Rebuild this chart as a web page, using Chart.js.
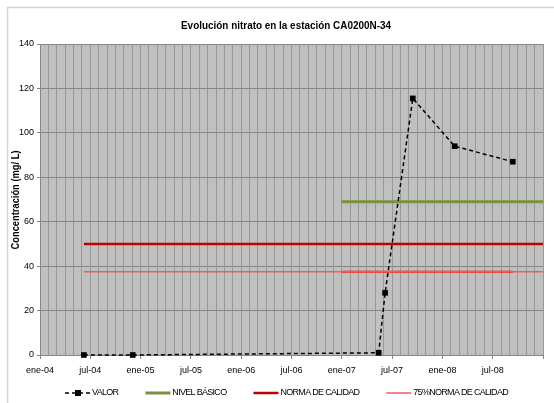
<!DOCTYPE html>
<html>
<head>
<meta charset="utf-8">
<script src="https://cdn.jsdelivr.net/npm/chart.js@4.4.1/dist/chart.umd.min.js"></script>
<style>
  html, body { margin: 0; padding: 0; background: #fff; }
</style>
</head>
<body>
<canvas id="grafico" width="554" height="403"></canvas>
<script>
// datos
var fechasValor = ['2004-06-08', '2004-12-03', '2007-05-13', '2007-06-06', '2007-09-15', '2008-02-15', '2008-09-13'];
var valor = [0, 0, 1, 28, 115.5, 94, 87];

var fechasNivel = ['2007-01-01', '2009-01-01'];
var nivelBasico = [69, 69];

var fechasNorma = ['2004-06-08', '2009-01-01'];
var normaCalidad = [50, 50];
var norma75 = [37.5, 37.5];

// segundo tramo de las normas (2007 - 2008)
var fechasNorma2 = ['2007-01-01', '2008-09-13'];

var etiquetasX = ['ene-04', 'jul-04', 'ene-05', 'jul-05', 'ene-06', 'jul-06', 'ene-07', 'jul-07', 'ene-08', 'jul-08'];
var ticksY = [0, 20, 40, 60, 80, 100, 120, 140];

// meses desde ene-04
function mesDesde2004(f) {
	var p = f.split('-').map(Number);
	return (p[0] - 2004) * 12 + (p[1] - 1) + (p[2] - 1) / 30;
}

function puntos(fechas, valores) {
	return fechas.map(function (f, i) {
		return { x: mesDesde2004(f), y: valores[i] };
	});
}

var fuente = "'Liberation Sans', Arial, sans-serif";

var fondo = {
	id: 'fondo',
	beforeDraw: function (chart) {
		var ctx = chart.ctx, a = chart.chartArea;
		ctx.save();
		ctx.fillStyle = '#fff';
		ctx.fillRect(0, 0, chart.width, chart.height);
		ctx.strokeStyle = '#d4d4d4';
		ctx.lineWidth = 1.5;
		ctx.strokeRect(7.5, 7.5, 700, 700);
		ctx.fillStyle = '#c0c0c0';
		ctx.fillRect(a.left, a.top, a.right - a.left, a.bottom - a.top);
		ctx.restore();
	}
};

function textoAjustado(ctx, texto, x, y, ancho, rot) {
	ctx.save();
	ctx.translate(x, y);
	if (rot) ctx.rotate(rot);
	var w = ctx.measureText(texto).width;
	ctx.scale(ancho / w, 1);
	ctx.textAlign = 'center';
	ctx.textBaseline = 'middle';
	ctx.fillText(texto, 0, 0);
	ctx.restore();
}

var titulos = {
	id: 'titulos',
	afterDraw: function (chart) {
		var ctx = chart.ctx;
		ctx.save();
		ctx.fillStyle = '#000';
		ctx.font = 'bold 11px ' + fuente;
		textoAjustado(ctx, 'Evolución nitrato en la estación CA0200N-34', 286, 26, 210, 0);
		ctx.font = 'bold 10.5px ' + fuente;
		textoAjustado(ctx, 'Concentración (mg/ L)', 16.5, 200, 99, -Math.PI / 2);
		ctx.restore();
	}
};

var leyenda = {
	id: 'leyenda',
	afterDraw: function (chart) {
		var ctx = chart.ctx;
		var x = 65, y = 393;
		ctx.save();
		ctx.font = '9px ' + fuente;
		ctx.letterSpacing = '-0.7px';
		ctx.textBaseline = 'middle';
		chart.data.datasets.forEach(function (ds) {
			if (ds.enLeyenda === false) return;
			ctx.save();
			ctx.strokeStyle = ds.borderColor;
			ctx.lineWidth = ds.borderWidth;
			ctx.setLineDash(ds.borderDash || []);
			ctx.beginPath();
			ctx.moveTo(x, y);
			ctx.lineTo(x + 25, y);
			ctx.stroke();
			if (ds.pointRadius > 0) {
				ctx.fillStyle = ds.pointBackgroundColor;
				ctx.fillRect(x + 10, y - 3, 6, 6);
			}
			ctx.restore();
			ctx.fillStyle = '#000';
			ctx.fillText(ds.label, x + 27, y);
			x += 27 + ctx.measureText(ds.label).width + 27;
		});
		ctx.restore();
	}
};

var config = {
	type: 'line',
	data: {
		datasets: [{
			label: 'VALOR',
			data: puntos(fechasValor, valor),
			borderColor: '#000',
			borderWidth: 1.5,
			borderDash: [4, 3],
			pointStyle: 'rect',
			pointRadius: 4,
			pointBackgroundColor: '#000',
			pointBorderWidth: 0,
			clip: 6
		}, {
			label: 'NIVEL BÁSICO',
			data: puntos(fechasNivel, nivelBasico),
			borderColor: '#77933c',
			borderWidth: 3,
			pointRadius: 0
		}, {
			label: 'NORMA DE CALIDAD',
			data: puntos(fechasNorma, normaCalidad),
			borderColor: '#c00000',
			borderWidth: 2.5,
			pointRadius: 0
		}, {
			label: '75%NORMA DE CALIDAD',
			data: puntos(fechasNorma, norma75),
			borderColor: '#f05c5c',
			borderWidth: 1.5,
			pointRadius: 0
		}, {
			label: 'NORMA DE CALIDAD',
			enLeyenda: false,
			data: puntos(fechasNorma2, normaCalidad),
			borderColor: '#d01818',
			borderWidth: 1.5,
			pointRadius: 0
		}, {
			label: '75%NORMA DE CALIDAD',
			enLeyenda: false,
			data: puntos(fechasNorma2, norma75),
			borderColor: '#ff0000',
			borderWidth: 2,
			pointRadius: 0
		}]
	},
	options: {
		responsive: false,
		animation: false,
		layout: { padding: { left: 0, right: 11, top: 44, bottom: 26 } },
		plugins: {
			legend: { display: false },
			title: { display: false },
			tooltip: { enabled: false }
		},
		scales: {
			x: {
				type: 'linear',
				min: 0,
				max: 60,
				afterFit: function (s) { s.height = 22; },
				border: { color: '#868686', width: 1 },
				grid: {
					color: '#999999',
					lineWidth: 1,
					tickLength: 4,
					tickColor: function (c) {
						return c.tick && Math.round(c.tick.value) % 6 === 0 ? '#868686' : 'rgba(0,0,0,0)';
					}
				},
				ticks: {
					stepSize: 1,
					autoSkip: false,
					maxRotation: 0,
					padding: 6,
					color: '#000',
					font: { family: fuente, size: 9 },
					callback: function (v) {
						v = Math.round(v);
						if (v % 6 !== 0) return '';
						return etiquetasX[v / 6] || '';
					}
				}
			},
			y: {
				min: 0,
				max: 140,
				afterFit: function (s) { s.width = 40; },
				afterBuildTicks: function (s) {
					s.ticks = ticksY.map(function (v) { return { value: v }; });
				},
				border: { color: '#868686', width: 1 },
				grid: { color: '#868686', lineWidth: 1, tickLength: 3, tickColor: '#868686' },
				ticks: {
					padding: 3,
					color: '#000',
					font: { family: fuente, size: 9 }
				}
			}
		}
	},
	plugins: [fondo, titulos, leyenda]
};

window.grafico = new Chart(document.getElementById('grafico'), config);
</script>
</body>
</html>
